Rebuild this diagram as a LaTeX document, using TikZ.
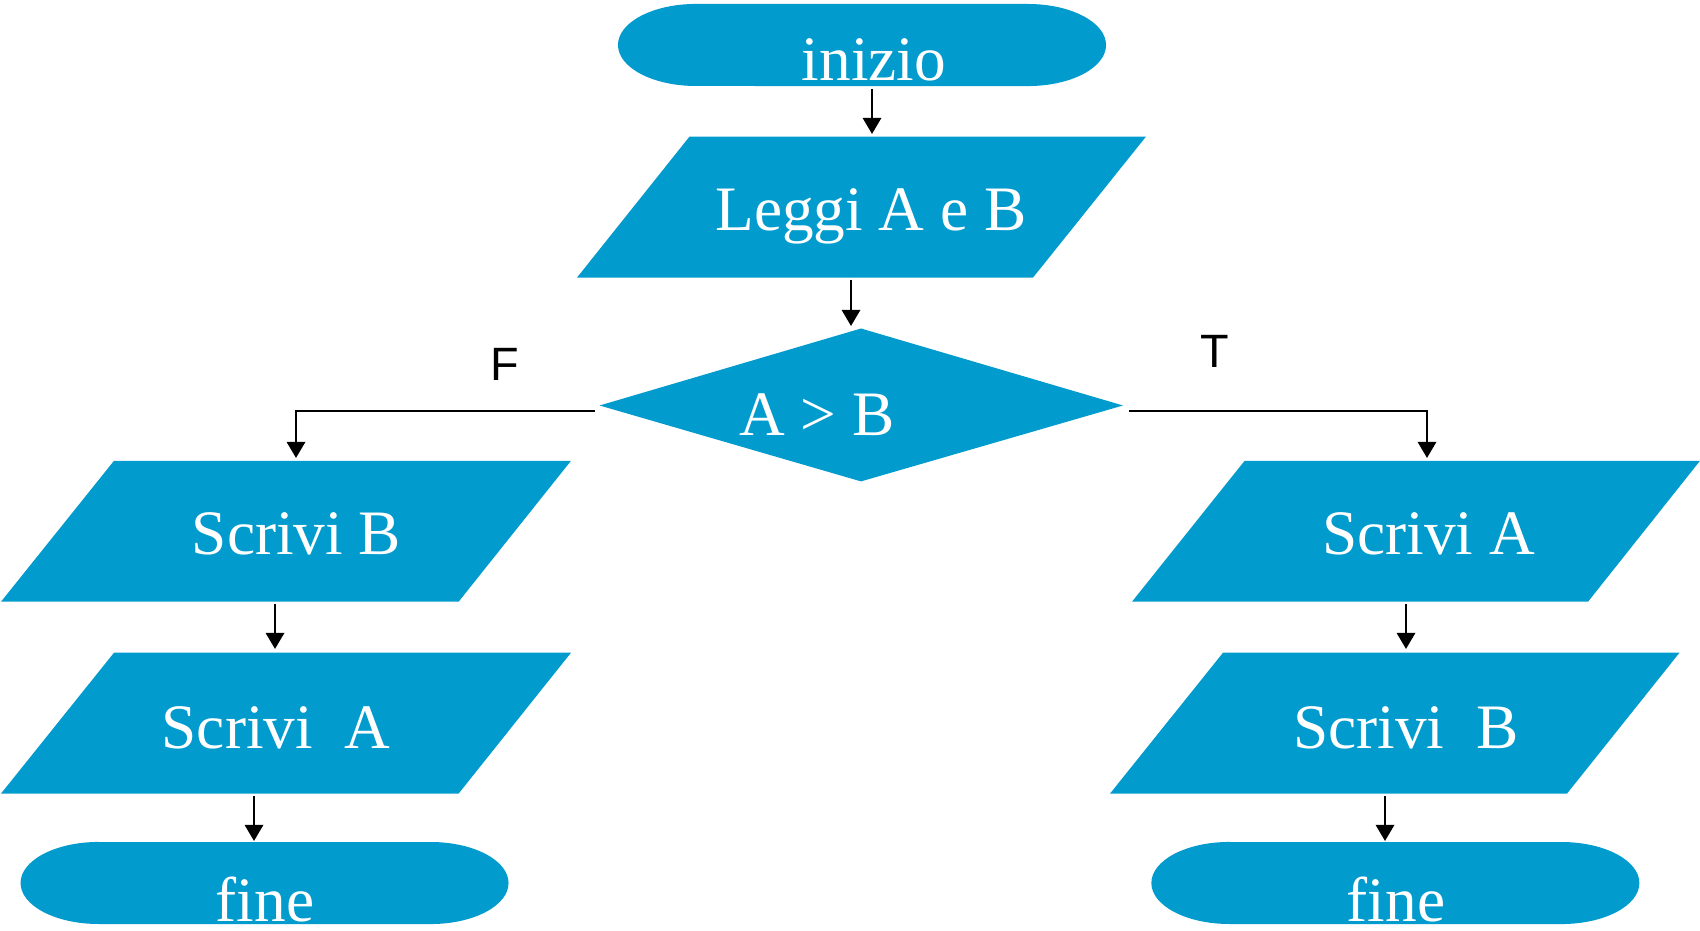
\documentclass[tikz,border=0pt]{standalone}
\usepackage{fontspec}
\setmainfont{Liberation Serif}
\newfontfamily\branchfont{Liberation Sans}
\usetikzlibrary{arrows.meta}
\definecolor{flowblue}{RGB}{2,155,205}

\begin{document}
\begin{tikzpicture}[x=0.01cm,y=0.01cm,
  block/.style={fill=flowblue},
  caption/.style={text=white,font=\fontsize{18}{20}\selectfont,anchor=base,inner sep=0pt},
  branch/.style={font=\branchfont\fontsize{13.3}{15}\selectfont,inner sep=0pt},
  flow/.style={draw=black,line width=0.75pt,-{Triangle[width=5.2pt,length=4.6pt]}},
]
\useasboundingbox (0,0) rectangle (1700,930);

% start / end terminals
\path[block] (696,926) -- (1028,926)
  arc[start angle=90,end angle=-90,x radius=0.78cm,y radius=0.41cm]
  -- (696,844) arc[start angle=270,end angle=90,x radius=0.78cm,y radius=0.41cm] -- cycle;
\path[block] (98.6,88) -- (430.5,88)
  arc[start angle=90,end angle=-90,x radius=0.78cm,y radius=0.41cm]
  -- (98.6,6) arc[start angle=270,end angle=90,x radius=0.78cm,y radius=0.41cm] -- cycle;
\path[block] (1229.4,88) -- (1561.3,88)
  arc[start angle=90,end angle=-90,x radius=0.78cm,y radius=0.41cm]
  -- (1229.4,6) arc[start angle=270,end angle=90,x radius=0.78cm,y radius=0.41cm] -- cycle;

% input / output blocks
\path[block] (689.5,793.4) -- (1146,793.4) -- (1033,652.4) -- (577,652.4) -- cycle;
\path[block] (114,469.2) -- (571,469.2) -- (458.6,328.3) -- (1,328.3) -- cycle;
\path[block] (114,277.3) -- (571,277.3) -- (458.6,136.4) -- (1,136.4) -- cycle;
\path[block] (1244.6,469.2) -- (1700,469.2) -- (1588,328.3) -- (1132,328.3) -- cycle;
\path[block] (1223,277.3) -- (1679.5,277.3) -- (1567,136.4) -- (1110,136.4) -- cycle;

% decision
\path[block] (861,601.5) -- (1123,524.5) -- (861,448.6) -- (599.6,524.5) -- cycle;

% texts
\node[caption] (inizio) at (874,849) {inizio};
\node[caption] (leggi) at (871,699) {Leggi A e B};
\node[caption] (cond) at (817,494) {A > B};
\node[caption] (outBl) at (296.5,375) {Scrivi B};
\node[caption] (outAl) at (276,182) {Scrivi\ \ A};
\node[caption] (fineL) at (265,9) {fine};
\node[caption] (outAr) at (1428.5,375) {Scrivi A};
\node[caption] (outBr) at (1405.7,182) {Scrivi\ \ B};
\node[caption] (fineR) at (1396,9) {fine};

\node[branch] (lblF) at (505,566) {F};
\node[branch] (lblT) at (1215,579) {T};

% connector ends
\coordinate (inizio-out) at (872,841);
\coordinate (leggi-in) at (872,796);
\coordinate (leggi-out) at (851,650);
\coordinate (cond-in) at (851,604);
\coordinate (cond-left) at (595,519);
\coordinate (cond-right) at (1129,519);
\coordinate (outBl-in) at (296,472);
\coordinate (outBl-out) at (275,326);
\coordinate (outAl-in) at (275,281);
\coordinate (outAl-out) at (254,134);
\coordinate (fineL-in) at (254,89);
\coordinate (outAr-in) at (1427,472);
\coordinate (outAr-out) at (1406,326);
\coordinate (outBr-in) at (1406,281);
\coordinate (outBr-out) at (1385,134);
\coordinate (fineR-in) at (1385,89);

% connectors
\draw[flow] (inizio-out) -- (leggi-in);
\draw[flow] (leggi-out) -- (cond-in);
\draw[flow] (cond-left) -| (outBl-in);
\draw[flow] (cond-right) -| (outAr-in);
\draw[flow] (outBl-out) -- (outAl-in);
\draw[flow] (outAl-out) -- (fineL-in);
\draw[flow] (outAr-out) -- (outBr-in);
\draw[flow] (outBr-out) -- (fineR-in);
\end{tikzpicture}
\end{document}
